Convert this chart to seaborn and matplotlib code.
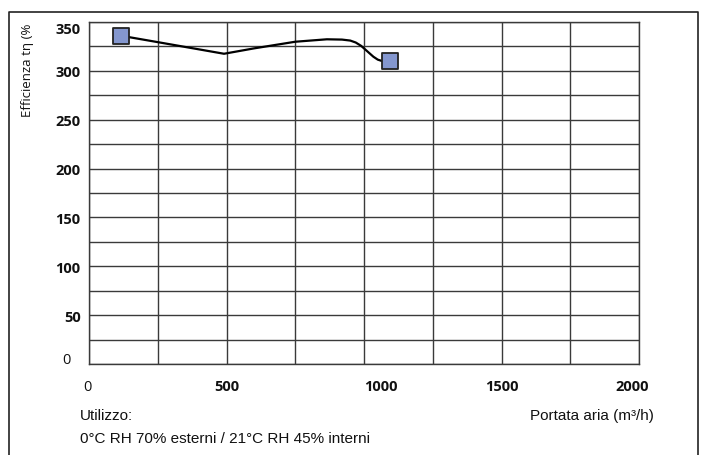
import matplotlib
matplotlib.use("Agg")
import matplotlib.pyplot as plt
import matplotlib.transforms as mtransforms
import seaborn as sns
import pandas as pd
from matplotlib.lines import Line2D

# Data
curve_x = [115, 250, 491, 600, 750, 865, 920, 950, 970, 990, 1010, 1034, 1050, 1064, 1096]
curve_y = [336, 329.4, 317.5, 323, 329.8, 332.3, 332.0, 331.0, 329.0, 325.5, 320.5, 314.5, 311.5, 310.2, 310]
point_x = [115, 1096]
point_y = [336, 310]
x_ticks = [0, 500, 1000, 1500, 2000]
y_ticks = [0, 50, 100, 150, 200, 250, 300, 350]

sns.set_style("white")
plt.rcParams['font.family'] = ['Open Sans', 'DejaVu Sans']

fig = plt.figure(figsize=(7.08, 4.56), dpi=100)
ax = fig.add_axes([89/708, 1-365/456, 550/708, 342/456])

curve = pd.DataFrame({"x": curve_x, "y": curve_y})
pts = pd.DataFrame({"x": point_x, "y": point_y})
sns.lineplot(data=curve, x="x", y="y", ax=ax, color="black", lw=1.6, sort=False, zorder=3)
sns.scatterplot(data=pts, x="x", y="y", ax=ax, marker="s", s=135, color="#8497cf",
                edgecolor="#222222", linewidth=1.3, zorder=4)

ax.set_xlim(0, 2000)
ax.set_ylim(0, 350)
ax.set_xticks(range(0, 2001, 250), minor=True)
ax.set_yticks(range(0, 351, 25), minor=True)
ax.set_xticks(x_ticks)
ax.set_yticks(y_ticks)
ax.set_xticklabels([str(v) for v in x_ticks])
ax.set_yticklabels([str(v) for v in y_ticks])
ax.grid(True, which="both", color="#3a3a3a", lw=1.0)
ax.tick_params(which="both", length=0)
ax.tick_params(axis="x", pad=11, labelsize=10.5, colors="#111111")
ax.tick_params(axis="y", pad=6, labelsize=10.5, colors="#111111")
for lab in ax.get_xticklabels() + ax.get_yticklabels():
    lab.set_fontweight("normal" if lab.get_text() == "0" else "bold")


def shift(lab, dx_px, dy_px):
    lab.set_transform(lab.get_transform() +
                      mtransforms.ScaledTranslation(dx_px/100, dy_px/100, fig.dpi_scale_trans))


ylabs = ax.get_yticklabels()
xlabs = ax.get_xticklabels()
shift(ylabs[0], -10, 6)
shift(ylabs[-1], 0, -5)
shift(xlabs[0], -2, 0)
shift(xlabs[2], 17, 0)
shift(xlabs[4], -7, 0)

for s in ax.spines.values():
    s.set_color("#3a3a3a")
    s.set_linewidth(1.0)
ax.set_xlabel("")
ax.set_ylabel("")

fig.text(27/708, 1-70/456, "Efficienza tη (%", rotation=90, ha="center", va="center",
         fontsize=9.5, color="#111111")
fig.text(592/708, 1-416/456, "Portata aria (m³/h)", ha="center", va="center",
         fontsize=11, family="Liberation Sans", color="#111111")
fig.text(80/708, 1-416/456, "Utilizzo:", ha="left", va="center",
         fontsize=11, family="Liberation Sans", color="#111111")
fig.text(80/708, 1-439/456, "0°C RH 70% esterni / 21°C RH 45% interni", ha="left", va="center",
         fontsize=11, family="Liberation Sans", color="#111111")

# outer frame (left, top, right)
fx0, fx1, fy1 = 9/708, 698/708, 1-12.5/456
fig.add_artist(Line2D([fx0, fx0, fx1, fx1], [0, fy1, fy1, 0], transform=fig.transFigure,
                      color="#222222", lw=1.2))

fig.savefig("out.png", dpi=100)
